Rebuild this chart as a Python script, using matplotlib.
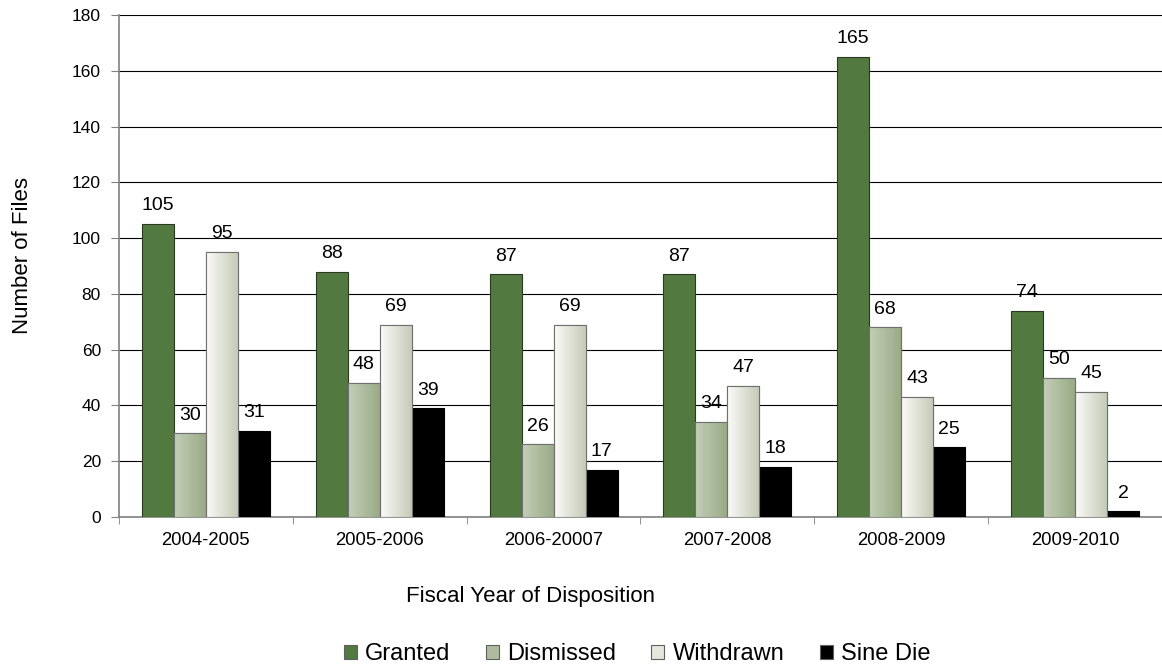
import numpy as np
import matplotlib.pyplot as plt
from matplotlib.patches import Patch
from matplotlib.colors import LinearSegmentedColormap

plt.rcParams['font.family'] = ['Liberation Sans', 'DejaVu Sans']

# 数据
years = ['2004-2005', '2005-2006', '2006-20007', '2007-2008', '2008-2009', '2009-2010']
series = ['Granted', 'Dismissed', 'Withdrawn', 'Sine Die']
granted = [105, 88, 87, 87, 165, 74]
dismissed = [30, 48, 26, 34, 68, 50]
withdrawn = [95, 69, 69, 47, 43, 45]
sine_die = [31, 39, 17, 18, 25, 2]

values = [granted, dismissed, withdrawn, sine_die]
# 渐变色 (左 -> 右)
gradients = [None,
             ('#c4ceb8', '#9aab86'),
             ('#fbfbf8', '#c5cbb8'),
             None]
solid = ['#527a40', '#aebb9c', '#e4e7dc', '#000000']
edges = ['#2a3a20', '#707070', '#707070', '#000000']

fig = plt.figure(figsize=(11.62, 6.67), dpi=100)
ax = fig.add_axes([119 / 1162, 150 / 667, 1043 / 1162, 502 / 667])

x = np.arange(len(years))
w = 0.184

for i, vals in enumerate(values):
    pos = x + (i - 1.5) * w
    bars = ax.bar(pos, vals, w, color=solid[i], edgecolor=edges[i], linewidth=0.8, zorder=3)
    for b in bars:
        if gradients[i] is not None:
            cmap = LinearSegmentedColormap.from_list('g', gradients[i])
            im = ax.imshow(np.linspace(0, 1, 64).reshape(1, -1), cmap=cmap, aspect='auto',
                           extent=(b.get_x(), b.get_x() + b.get_width(), 0, b.get_height()),
                           zorder=3.5, interpolation='bilinear')
            im.set_clip_path(b)
            # 重新画边框
            ax.bar(b.get_x() + b.get_width() / 2, b.get_height(), b.get_width(), fill=False,
                   edgecolor=edges[i], linewidth=0.8, zorder=4)
        ax.annotate(str(int(b.get_height())), (b.get_x() + b.get_width() / 2, b.get_height()),
                    xytext=(0, 7), textcoords='offset points',
                    ha='center', va='bottom', fontsize=14, zorder=5)

ax.set_xlim(-0.5, len(years) - 0.5)
ax.set_ylim(0, 180)
ax.set_yticks(range(0, 181, 20))
ax.set_xticks(x)
ax.set_xticklabels(years, fontsize=13.3)
ax.set_xticks(np.arange(len(years) + 1) - 0.5, minor=True)
ax.tick_params(axis='x', which='major', length=0, pad=11)
ax.tick_params(axis='x', which='minor', length=5, color='#808080', direction='out')
ax.tick_params(axis='y', labelsize=12.5, length=6, pad=7, color='#808080', direction='out')

ax.grid(axis='y', color='#000000', linewidth=0.8, zorder=1)
ax.set_axisbelow(True)
for s in ['top', 'right']:
    ax.spines[s].set_visible(False)
for s in ['left', 'bottom']:
    ax.spines[s].set_color('#808080')
    ax.spines[s].set_linewidth(1.2)

ax.set_ylabel('Number of Files', fontsize=16)
ax.yaxis.set_label_coords(-0.082, 0.52)
ax.set_xlabel('Fiscal Year of Disposition', fontsize=16)
ax.xaxis.set_label_coords(0.395, -0.137)

handles = [Patch(facecolor=solid[i], edgecolor='#606060', linewidth=0.8) for i in range(4)]
fig.legend(handles, series, loc='center', bbox_to_anchor=(637 / 1162, 1 - 654 / 667), ncol=4,
           frameon=False, fontsize=17, handlelength=0.55, handleheight=0.55,
           handletextpad=0.35, columnspacing=1.5)

fig.savefig('out.png', dpi=100)
